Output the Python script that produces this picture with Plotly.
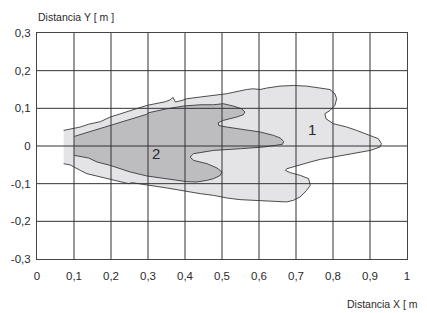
import plotly.graph_objects as go

# Tick values / labels
x_ticks = [0, 0.1, 0.2, 0.3, 0.4, 0.5, 0.6, 0.7, 0.8, 0.9, 1.0]
x_labels = ["0", "0,1", "0,2", "0,3", "0,4", "0,5", "0,6", "0,7", "0,8", "0,9", "1"]
y_ticks = [-0.3, -0.2, -0.1, 0, 0.1, 0.2, 0.3]
y_labels = ["-0,3", "-0,2", "-0,1", "0", "0,1", "0,2", "0,3"]

# Zone 1 (outer detection field), outline
zone1_x = [0.072, 0.090, 0.1035, 0.117, 0.1395, 0.171, 0.198, 0.252, 0.297, 0.347, 0.360, 0.368,
           0.374, 0.392, 0.405, 0.441, 0.4765, 0.512, 0.5665, 0.5846, 0.6027, 0.6205, 0.657, 0.693,
           0.7286, 0.774, 0.792, 0.805, 0.810, 0.805, 0.792, 0.778, 0.781, 0.801, 0.819, 0.837,
           0.864, 0.900, 0.9224, 0.931, 0.927, 0.9008, 0.847, 0.8016, 0.7657, 0.7386, 0.7027,
           0.6757, 0.671, 0.6846, 0.7116, 0.734, 0.7386, 0.728, 0.711, 0.6927, 0.6746, 0.6386,
           0.5935, 0.5486, 0.5124, 0.4765, 0.441, 0.405, 0.351, 0.297, 0.270, 0.257, 0.2476,
           0.198, 0.162, 0.135, 0.117, 0.099, 0.090, 0.072]
zone1_y = [0.0414, 0.0446, 0.0477, 0.0504, 0.0578, 0.0645, 0.0769, 0.0936, 0.1077, 0.1175, 0.1228,
           0.1289, 0.1167, 0.121, 0.1255, 0.130, 0.1342, 0.1387, 0.150, 0.152, 0.150, 0.1538, 0.159,
           0.1607, 0.159, 0.1538, 0.150, 0.1387, 0.1255, 0.1077, 0.0944, 0.0857, 0.0724, 0.0592,
           0.0546, 0.0504, 0.0414, 0.0281, 0.0194, 0.0061, -0.0027, -0.0117, -0.0204, -0.0292,
           -0.0355, -0.0424, -0.0531, -0.0602, -0.0647, -0.0708, -0.078, -0.0867, -0.1045, -0.1186,
           -0.1353, -0.1443, -0.1485, -0.147, -0.1459, -0.1424, -0.1379, -0.131, -0.1265, -0.12,
           -0.1114, -0.1034, -0.0995, -0.0973, -0.1, -0.088, -0.0796, -0.0735, -0.0647, -0.0557,
           -0.0504, -0.047]

# Zone 2 (inner detection field)
zone2_x = [0.1008, 0.1395, 0.2027, 0.2568, 0.297, 0.3016, 0.351, 0.396, 0.441, 0.4765, 0.5035,
           0.5305, 0.553, 0.562, 0.5576, 0.5395, 0.5035, 0.490, 0.491, 0.5124, 0.558, 0.6035,
           0.6395, 0.6575, 0.6665, 0.6638, 0.644, 0.6124, 0.5495, 0.477, 0.423, 0.414, 0.423,
           0.4595, 0.4865, 0.500, 0.4954, 0.477, 0.4595, 0.432, 0.405, 0.351, 0.297, 0.252, 0.198,
           0.162, 0.1395, 0.1008]
zone2_y = [0.0255, 0.0371, 0.0578, 0.0724, 0.0843, 0.0883, 0.0989, 0.1061, 0.1095, 0.1095, 0.1122,
           0.1061, 0.0989, 0.0902, 0.083, 0.0769, 0.0679, 0.0618, 0.0546, 0.0504, 0.044, 0.0371,
           0.0281, 0.0212, 0.0122, 0.0048, 0.0016, -0.0027, -0.0072, -0.0117, -0.0204, -0.0292,
           -0.0382, -0.047, -0.0584, -0.069, -0.078, -0.0867, -0.0912, -0.0955, -0.0947, -0.088,
           -0.0796, -0.069, -0.0515, -0.0424, -0.0318, -0.0249]

zone_labels = ["1", "2"]
zone_label_x = [0.743, 0.322]
zone_label_y = [0.044, -0.02]

FONT = "Liberation Sans, Arial, sans-serif"
INK = "#2a2a2a"
TICK_SIZE = 11.5

fig = go.Figure()
fig.add_trace(go.Scatter(x=zone1_x, y=zone1_y, mode="lines", fill="toself",
                         fillcolor="#e4e4e6", line=dict(color="#3a3a3a", width=0.9),
                         hoverinfo="skip", showlegend=False))
fig.add_trace(go.Scatter(x=zone2_x, y=zone2_y, mode="lines", fill="toself",
                         fillcolor="#bdbdc0", line=dict(color="#3a3a3a", width=0.9),
                         hoverinfo="skip", showlegend=False))

# grid lines drawn above the filled zones (as in the reference)
shapes = []
for xv in x_ticks[1:-1]:
    shapes.append(dict(type="line", xref="x", yref="y", x0=xv, x1=xv,
                       y0=y_ticks[0], y1=y_ticks[-1], layer="above",
                       line=dict(color="#333333", width=1)))
for yv in y_ticks[1:-1]:
    shapes.append(dict(type="line", xref="x", yref="y", x0=x_ticks[0], x1=x_ticks[-1],
                       y0=yv, y1=yv, layer="above",
                       line=dict(color="#333333", width=1)))

annotations = []
for t, xv, yv in zip(zone_labels, zone_label_x, zone_label_y):
    annotations.append(dict(x=xv, y=yv, xref="x", yref="y", text=t, showarrow=False,
                            font=dict(family=FONT, size=15, color=INK)))
annotations.append(dict(x=0.0, y=1.0, xref="paper", yref="paper", xanchor="left", yanchor="middle",
                        xshift=-1, yshift=16.5, text="Distancia Y [ m ]", showarrow=False,
                        font=dict(family=FONT, size=10.5, color=INK)))
annotations.append(dict(x=1.0, y=0.0, xref="paper", yref="paper", xanchor="right", yanchor="middle",
                        xshift=19, yshift=-45, text="Distancia X [ m ]", showarrow=False,
                        font=dict(family=FONT, size=10.5, color=INK)))

# page body adds an 8px margin, so the figure is offset accordingly
fig.update_layout(
    width=419, height=305,
    margin=dict(l=29, r=20, t=25, b=54, autoexpand=False),
    paper_bgcolor="white", plot_bgcolor="white",
    shapes=shapes, annotations=annotations,
    xaxis=dict(range=[x_ticks[0], x_ticks[-1]], tickvals=x_ticks, ticktext=x_labels,
               showgrid=False, zeroline=False, showline=True, mirror=True, automargin=False,
               linecolor="#444444", linewidth=1, ticks="", layer="above traces",
               ticklabelstandoff=6,
               tickfont=dict(family=FONT, size=TICK_SIZE, color=INK)),
    yaxis=dict(range=[y_ticks[0], y_ticks[-1]], tickvals=y_ticks, ticktext=y_labels,
               showgrid=False, zeroline=False, showline=True, mirror=True, automargin=False,
               linecolor="#444444", linewidth=1, ticks="", layer="above traces",
               ticklabelstandoff=3,
               tickfont=dict(family=FONT, size=TICK_SIZE, color=INK)),
)

fig.write_html("out.html")
